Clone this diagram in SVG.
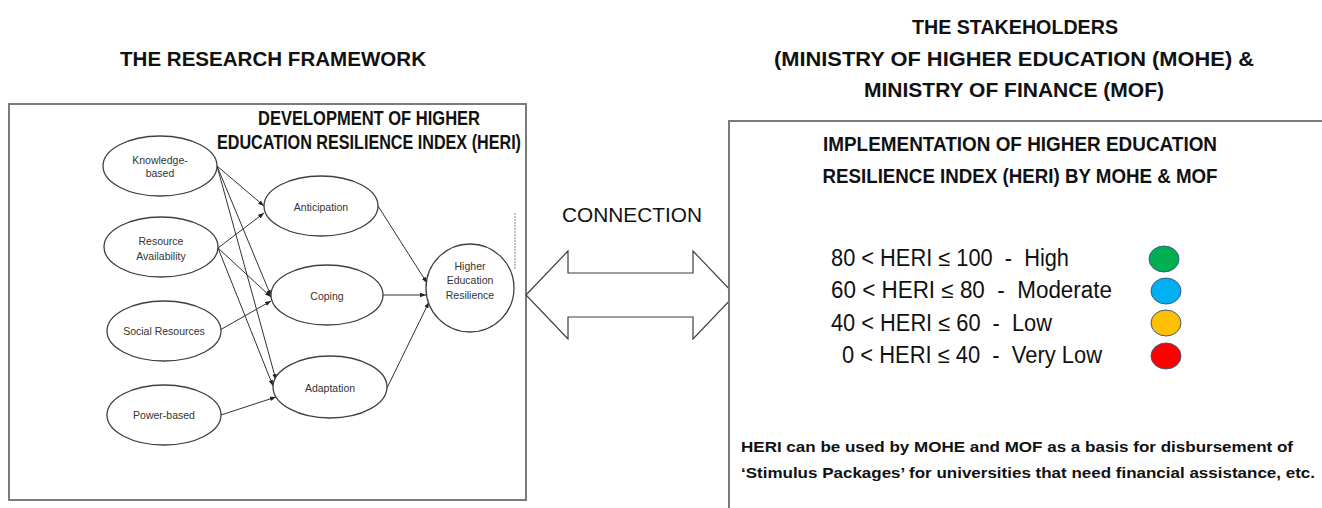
<svg xmlns="http://www.w3.org/2000/svg" width="1322" height="508" viewBox="0 0 1322 508">
  <style>
    .head { font-family: "Liberation Sans", Arial, sans-serif; font-weight: bold; font-size: 21px; fill: #111; }
    .node { fill: #fff; stroke: #404040; stroke-width: 1.3; }
    .lbl { font-family: "Liberation Sans", Arial, sans-serif; font-size: 10.5px; fill: #333; text-anchor: middle; }
    .frame { fill: #fff; stroke: #7a7a7a; stroke-width: 2; }
    .edge { stroke: #333; stroke-width: 1; fill: none; marker-end: url(#ah); }
    .scale { font-family: "Liberation Sans", Arial, sans-serif; font-size: 23px; fill: #111; }
    .note { font-family: "Liberation Sans", Arial, sans-serif; font-weight: bold; font-size: 15.5px; fill: #111; }
    .dot { stroke: #3b5a8a; stroke-width: 1; }
  </style>
  <defs>
    <marker id="ah" markerUnits="userSpaceOnUse" markerWidth="6" markerHeight="6" viewBox="0 0 6 6" refX="6" refY="3" orient="auto">
      <path d="M0,0.8 L6,3 L0,5.2 Z" fill="#222"/>
    </marker>
  </defs>

  <rect width="1322" height="508" fill="#fff"/>

  <!-- section headings -->
  <g id="heading-left">
    <text class="head" x="120" y="66" textLength="306" lengthAdjust="spacingAndGlyphs">THE RESEARCH FRAMEWORK</text>
  </g>
  <g id="heading-right">
    <text class="head" x="1015" y="34" text-anchor="middle" textLength="206" lengthAdjust="spacingAndGlyphs">THE STAKEHOLDERS</text>
    <text class="head" x="1014" y="66" text-anchor="middle" textLength="480" lengthAdjust="spacingAndGlyphs">(MINISTRY OF HIGHER EDUCATION (MOHE) &amp;</text>
    <text class="head" x="1014" y="97" text-anchor="middle" textLength="300" lengthAdjust="spacingAndGlyphs">MINISTRY OF FINANCE (MOF)</text>
  </g>

  <!-- research framework panel -->
  <g id="framework-panel">
    <rect class="frame" x="9" y="104" width="517" height="396"/>
    <text class="head" x="369" y="125" text-anchor="middle" textLength="222" lengthAdjust="spacingAndGlyphs">DEVELOPMENT OF HIGHER</text>
    <text class="head" x="369" y="149" text-anchor="middle" textLength="304" lengthAdjust="spacingAndGlyphs">EDUCATION RESILIENCE INDEX (HERI)</text>
    <line x1="515" y1="213" x2="515" y2="270" stroke="#888" stroke-width="1" stroke-dasharray="2 1"/>
  </g>

  <!-- connectors -->
  <g id="connectors">
    <line class="edge" x1="217" y1="166" x2="264" y2="206"/>
    <line class="edge" x1="217" y1="166" x2="271" y2="296"/>
    <line class="edge" x1="217" y1="166" x2="276" y2="380"/>
    <line class="edge" x1="218" y1="248" x2="264" y2="213"/>
    <line class="edge" x1="218" y1="248" x2="271" y2="297"/>
    <line class="edge" x1="218" y1="248" x2="273" y2="386"/>
    <line class="edge" x1="220" y1="330" x2="271" y2="301"/>
    <line class="edge" x1="221" y1="415" x2="276" y2="397"/>
    <line class="edge" x1="378" y1="206" x2="427" y2="283"/>
    <line class="edge" x1="383" y1="295" x2="426" y2="295"/>
    <line class="edge" x1="387" y1="388" x2="429" y2="302"/>
  </g>

  <!-- source factors -->
  <g id="knowledge-based">
    <ellipse class="node" cx="160" cy="166" rx="57" ry="30"/>
    <text class="lbl" x="160" y="164">Knowledge-</text>
    <text class="lbl" x="160" y="177">based</text>
  </g>
  <g id="resource-availability">
    <ellipse class="node" cx="161" cy="247" rx="57" ry="30"/>
    <text class="lbl" x="161" y="245">Resource</text>
    <text class="lbl" x="161" y="260">Availability</text>
  </g>
  <g id="social-resources">
    <ellipse class="node" cx="164" cy="331" rx="57" ry="30"/>
    <text class="lbl" x="164" y="335">Social Resources</text>
  </g>
  <g id="power-based">
    <ellipse class="node" cx="164" cy="415" rx="57" ry="30"/>
    <text class="lbl" x="164" y="419">Power-based</text>
  </g>

  <!-- resilience capacities -->
  <g id="anticipation">
    <ellipse class="node" cx="321" cy="206" rx="57" ry="30"/>
    <text class="lbl" x="321" y="211">Anticipation</text>
  </g>
  <g id="coping">
    <ellipse class="node" cx="327" cy="295" rx="56" ry="30"/>
    <text class="lbl" x="327" y="300">Coping</text>
  </g>
  <g id="adaptation">
    <ellipse class="node" cx="330" cy="387" rx="57" ry="31"/>
    <text class="lbl" x="330" y="392">Adaptation</text>
  </g>

  <!-- outcome -->
  <g id="higher-education-resilience">
    <circle class="node" cx="470" cy="288" r="44"/>
    <text class="lbl" x="470" y="270">Higher</text>
    <text class="lbl" x="470" y="284">Education</text>
    <text class="lbl" x="470" y="299">Resilience</text>
  </g>

  <!-- two-way link between panels -->
  <g id="connection">
    <text x="632" y="222" text-anchor="middle" font-family="Liberation Sans, Arial, sans-serif" font-size="20.5" fill="#111" textLength="140" lengthAdjust="spacingAndGlyphs">CONNECTION</text>
    <polygon points="526,295 568,251 568,273 693,273 693,251 735,295 693,339 693,317 568,317 568,339" fill="#fff" stroke="#404040" stroke-width="1.2" stroke-linejoin="miter"/>
  </g>

  <!-- stakeholder panel -->
  <g id="stakeholder-panel">
    <rect class="frame" x="729" y="121" width="620" height="420"/>
    <text class="head" x="1020" y="151" text-anchor="middle" textLength="394" lengthAdjust="spacingAndGlyphs">IMPLEMENTATION OF HIGHER EDUCATION</text>
    <text class="head" x="1020" y="183" text-anchor="middle" textLength="395" lengthAdjust="spacingAndGlyphs">RESILIENCE INDEX (HERI) BY MOHE &amp; MOF</text>

    <text class="scale" xml:space="preserve" x="831" y="266" textLength="238" lengthAdjust="spacingAndGlyphs">80 &lt; HERI ≤ 100  -  High</text>
    <text class="scale" xml:space="preserve" x="831" y="298" textLength="281" lengthAdjust="spacingAndGlyphs">60 &lt; HERI ≤ 80  -  Moderate</text>
    <text class="scale" xml:space="preserve" x="831" y="331" textLength="221" lengthAdjust="spacingAndGlyphs">40 &lt; HERI ≤ 60  -  Low</text>
    <text class="scale" xml:space="preserve" x="842" y="363" textLength="260" lengthAdjust="spacingAndGlyphs">0 &lt; HERI ≤ 40  -  Very Low</text>

    <ellipse class="dot" cx="1164" cy="259" rx="15" ry="13" fill="#00B050"/>
    <ellipse class="dot" cx="1166" cy="291" rx="15" ry="13" fill="#00B0F0"/>
    <ellipse class="dot" cx="1166" cy="323" rx="15" ry="13" fill="#FFC000"/>
    <ellipse class="dot" cx="1166" cy="356" rx="15" ry="13" fill="#FF0000"/>

    <text class="note" x="741" y="452" textLength="552" lengthAdjust="spacingAndGlyphs">HERI can be used by MOHE and MOF as a basis for disbursement of</text>
    <text class="note" x="741" y="478" textLength="574" lengthAdjust="spacingAndGlyphs">‘Stimulus Packages’ for universities that need financial assistance, etc.</text>
  </g>
</svg>
